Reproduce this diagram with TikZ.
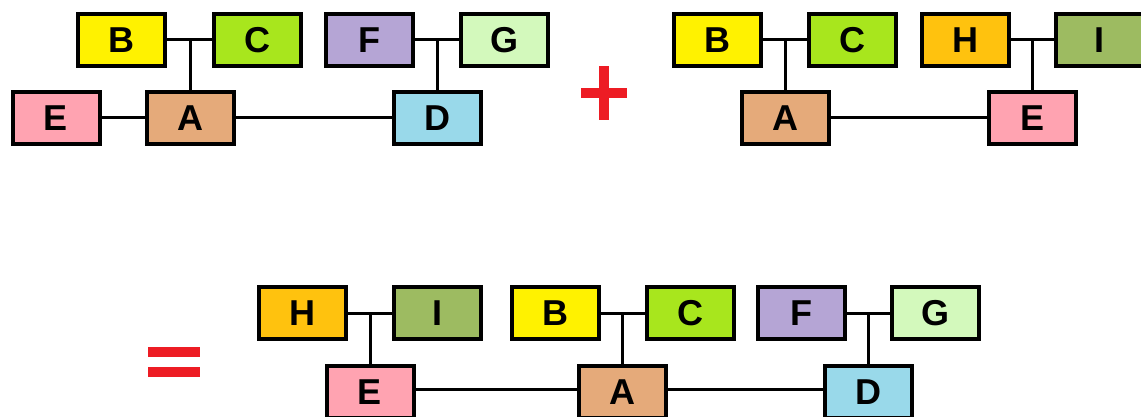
\documentclass[tikz,border=0pt]{standalone}
\usepackage{fontspec}
\setmainfont{Liberation Sans}
\definecolor{cB}{HTML}{FFF200}
\definecolor{cC}{HTML}{A8E61D}
\definecolor{cF}{HTML}{B5A5D5}
\definecolor{cG}{HTML}{D3F9BC}
\definecolor{cE}{HTML}{FFA3B1}
\definecolor{cA}{HTML}{E5AA7A}
\definecolor{cD}{HTML}{99D9EA}
\definecolor{cH}{HTML}{FFC20E}
\definecolor{cI}{HTML}{9DBB61}
\definecolor{cRed}{HTML}{ED1C24}
\tikzset{
  box/.style={draw=black, fill=#1, line width=4pt, minimum width=87pt, minimum height=52pt,
    inner sep=0pt, font=\fontsize{36}{36}\selectfont\bfseries},
  link/.style={draw=black, line width=3pt},
  sign/.style={fill=cRed, draw=none}
}
\begin{document}
\begin{tikzpicture}[x=1pt,y=-1pt]
\useasboundingbox (0,0) rectangle (1141,417);
% ---------- top-left tree ----------
\node[box=cB] (aB) at (121.5,40) {B};
\node[box=cC] (aC) at (257.5,40) {C};
\node[box=cF] (aF) at (369.5,40) {F};
\node[box=cG] (aG) at (504.5,40) {G};
\node[box=cE] (aE) at (56,118) {E};
\node[box=cA] (aA) at (190,118) {A};
\node[box=cD] (aD) at (437,118) {D};
\draw[link] (aB) -- (aC);
\draw[link] (aF) -- (aG);
\draw[link] (aA.north) -- (aA.north |- aB.east);
\draw[link] (aD.north) -- (aD.north |- aF.east);
\draw[link] (aE) -- (aA);
\draw[link] (aA) -- (aD);
% ---------- plus ----------
\path[sign] (599,66) rectangle (609,120);
\path[sign] (581,88) rectangle (627,98);
% ---------- top-right tree ----------
\node[box=cB] (bB) at (717.5,40) {B};
\node[box=cC] (bC) at (852,40) {C};
\node[box=cH] (bH) at (965,40) {H};
\node[box=cI] (bI) at (1099,40) {I};
\node[box=cA] (bA) at (785,118) {A};
\node[box=cE] (bE) at (1032,118) {E};
\draw[link] (bB) -- (bC);
\draw[link] (bH) -- (bI);
\draw[link] (bA.north) -- (bA.north |- bB.east);
\draw[link] (bE.north) -- (bE.north |- bH.east);
\draw[link] (bA) -- (bE);
% ---------- equals ----------
\path[sign] (148,347) rectangle (200,357);
\path[sign] (148,367) rectangle (200,377);
% ---------- result tree ----------
\node[box=cH] (cH) at (302,313) {H};
\node[box=cI] (cI) at (437,313) {I};
\node[box=cB] (cB) at (555,313) {B};
\node[box=cC] (cC) at (690,313) {C};
\node[box=cF] (cF) at (801.5,313) {F};
\node[box=cG] (cG) at (935.5,313) {G};
\node[box=cE] (cE) at (370,392) {E};
\node[box=cA] (cA) at (622,392) {A};
\node[box=cD] (cD) at (868,392) {D};
\draw[link] (cH) -- (cI);
\draw[link] (cB) -- (cC);
\draw[link] (cF) -- (cG);
\draw[link] (cE.north) -- (cE.north |- cH.east);
\draw[link] (cA.north) -- (cA.north |- cB.east);
\draw[link] (cD.north) -- (cD.north |- cF.east);
\draw[link] ([yshift=3pt]cE.east) -- ([yshift=3pt]cA.west);
\draw[link] ([yshift=3pt]cA.east) -- ([yshift=3pt]cD.west);
\end{tikzpicture}
\end{document}
